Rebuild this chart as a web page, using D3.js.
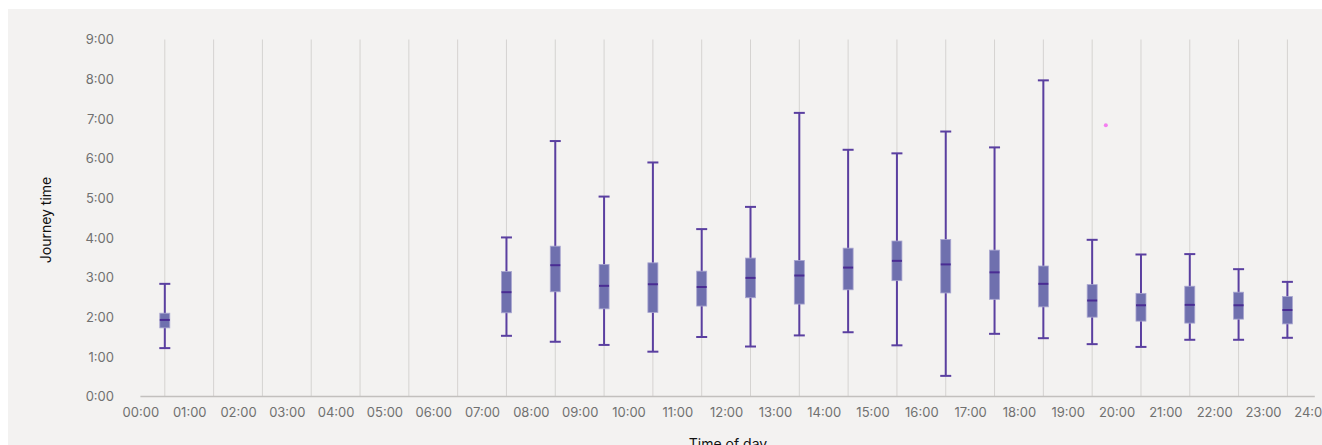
<!DOCTYPE html>
<html>
<head>
<meta charset="utf-8">
<title>Journey time by time of day</title>
<script src="https://cdn.jsdelivr.net/npm/d3@7"></script>
<style>
body { margin:0; background:#fff; font-family:Inter, "Open Sans", sans-serif; }
.tick text { fill:#707070; font-size:13px; font-family:Inter, sans-serif; }
</style>
</head>
<body>
<svg id=chart width=1322 height=445></svg>
<script>
// hour slots that have journeys (box drawn at slot centre)
var hours      = [0, 7, 8, 9, 10, 11, 12, 13, 14, 15, 16, 17, 18, 19, 20, 21, 22, 23]
// journey time in minutes
var whiskerLow = [1.22, 1.53, 1.38, 1.30, 1.13, 1.50, 1.26, 1.54, 1.62, 1.29, 0.52, 1.58, 1.47, 1.32, 1.25, 1.43, 1.43, 1.48]
var q1         = [1.73, 2.11, 2.64, 2.21, 2.12, 2.28, 2.49, 2.33, 2.69, 2.92, 2.61, 2.45, 2.26, 2.00, 1.90, 1.85, 1.95, 1.83]
var median     = [1.93, 2.63, 3.31, 2.79, 2.83, 2.76, 2.99, 3.05, 3.25, 3.42, 3.33, 3.13, 2.84, 2.42, 2.30, 2.31, 2.30, 2.18]
var q3         = [2.10, 3.15, 3.79, 3.33, 3.37, 3.16, 3.49, 3.43, 3.74, 3.92, 3.96, 3.69, 3.29, 2.82, 2.60, 2.78, 2.63, 2.52]
var whiskerHigh= [2.84, 4.01, 6.44, 5.04, 5.90, 4.22, 4.78, 7.15, 6.22, 6.13, 6.68, 6.28, 7.97, 3.95, 3.58, 3.59, 3.21, 2.89]
var outlierHour = [19.78]
var outlierValue = [6.84]

var xTicks = d3.range(0, 25)
var yTicks = d3.range(0, 10)

var svg = d3.select("#chart")

svg.append("rect")
  .attr("x", 8).attr("y", 9)
  .attr("width", 1314).attr("height", 436)
  .attr("fill", "#f3f2f1")

var x = d3.scaleLinear().domain([0, 24]).range([140.4, 1311.8])
var y = d3.scaleLinear().domain([0, 9]).range([396.5, 39.5])

// vertical gridlines through the slot centres
svg.append("g")
  .selectAll("line")
  .data(d3.range(0, 24))
  .join("line")
  .attr("x1", function(d){ return x(d + 0.5) })
  .attr("x2", function(d){ return x(d + 0.5) })
  .attr("y1", y(9))
  .attr("y2", y(0))
  .attr("stroke", "#d5d3d1")
  .attr("stroke-width", 1)

// x axis
var xAxis = svg.append("g")
  .attr("transform", "translate(0," + y(0) + ")")
  .call(d3.axisBottom(x)
    .tickValues(xTicks)
    .tickSize(0)
    .tickPadding(11)
    .tickFormat(function(d){ return (d < 10 ? "0" : "") + d + ":00" }))
xAxis.select(".domain").remove()
xAxis.append("line")
  .attr("x1", x(0)).attr("x2", x(24) + 3)
  .attr("stroke", "#c2c0be").attr("stroke-width", 1.5)

// y axis, labels only
var yAxis = svg.append("g")
  .attr("transform", "translate(114,0)")
  .call(d3.axisLeft(y)
    .tickValues(yTicks)
    .tickSize(0)
    .tickPadding(0)
    .tickFormat(function(d){ return d + ":00" }))
yAxis.select(".domain").remove()

svg.append("text")
  .attr("transform", "translate(51,220)rotate(-90)")
  .attr("text-anchor", "middle")
  .attr("font-size", "14px")
  .attr("fill", "#111")
  .text("Journey time")

svg.append("text")
  .attr("x", 728).attr("y", 449)
  .attr("text-anchor", "middle")
  .attr("font-size", "14px")
  .attr("fill", "#111")
  .text("Time of day")

// boxes
var boxW = 10, capW = 11
var boxes = svg.append("g")
  .selectAll("g")
  .data(hours)
  .join("g")
  .attr("transform", function(d){ return "translate(" + x(d + 0.5) + ",0)" })

boxes.append("line")
  .attr("y1", function(d, i){ return y(whiskerLow[i]) })
  .attr("y2", function(d, i){ return y(whiskerHigh[i]) })
  .attr("stroke", "#5a3fa0").attr("stroke-width", 2)

boxes.append("line")
  .attr("x1", -capW/2).attr("x2", capW/2)
  .attr("y1", function(d, i){ return y(whiskerHigh[i]) })
  .attr("y2", function(d, i){ return y(whiskerHigh[i]) })
  .attr("stroke", "#5a3fa0").attr("stroke-width", 2)

boxes.append("line")
  .attr("x1", -capW/2).attr("x2", capW/2)
  .attr("y1", function(d, i){ return y(whiskerLow[i]) })
  .attr("y2", function(d, i){ return y(whiskerLow[i]) })
  .attr("stroke", "#5a3fa0").attr("stroke-width", 2)

boxes.append("rect")
  .attr("x", -boxW/2).attr("width", boxW)
  .attr("y", function(d, i){ return y(q3[i]) })
  .attr("height", function(d, i){ return y(q1[i]) - y(q3[i]) })
  .attr("fill", "#6f70ae")
  .attr("stroke", "#a9a6d0").attr("stroke-width", 0.8)

boxes.append("line")
  .attr("x1", -boxW/2).attr("x2", boxW/2)
  .attr("y1", function(d, i){ return y(median[i]) })
  .attr("y2", function(d, i){ return y(median[i]) })
  .attr("stroke", "#4a2c93").attr("stroke-width", 2)

svg.append("g")
  .selectAll("circle")
  .data(outlierHour)
  .join("circle")
  .attr("cx", function(d){ return x(d) })
  .attr("cy", function(d, i){ return y(outlierValue[i]) })
  .attr("r", 2)
  .attr("fill", "#f47ef0")
</script>
</body>
</html>
